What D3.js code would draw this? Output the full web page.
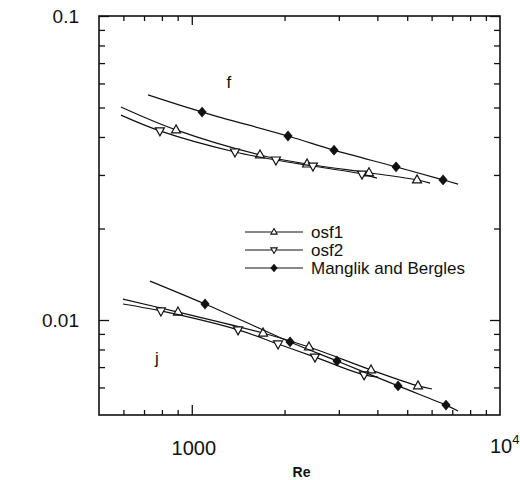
<!DOCTYPE html>
<html>
<head>
<meta charset="utf-8">
<script src="https://d3js.org/d3.v7.min.js"></script>
<style>
body { margin: 0; background: #fff; }
text { font-family: "Liberation Sans", Arial, Helvetica, sans-serif; fill: #111; }
</style>
</head>
<body>
<div id="chart"></div>
<script>
// f curves (Fanning friction factor) - line vertices
var fOsf1Re   = [589, 889, 1665, 2366, 3758, 5380, 5930];
var fOsf1Val  = [0.0502, 0.0422, 0.0349, 0.0326, 0.0305, 0.0289, 0.0282];
var fOsf2Re   = [589, 788, 1381, 1875, 2473, 3566, 3990];
var fOsf2Val  = [0.0472, 0.0419, 0.0357, 0.0336, 0.0321, 0.0302, 0.0293];
var fMBRe     = [721, 1080, 2052, 2894, 4600, 6535, 7310];
var fMBVal    = [0.0550, 0.0483, 0.0403, 0.0362, 0.0319, 0.0289, 0.0280];

// j curves (Colburn factor) - line vertices
var jOsf1Re   = [598, 902, 1703, 2400, 3815, 5420, 6017];
var jOsf1Val  = [0.01172, 0.01062, 0.00906, 0.00815, 0.00685, 0.00607, 0.00593];
var jOsf2Re   = [598, 794, 1413, 1905, 2510, 3622, 4022];
var jOsf2Val  = [0.01129, 0.01071, 0.00928, 0.00834, 0.00755, 0.00660, 0.00649];
var jMBRe     = [732, 1104, 2084, 2960, 4670, 6680, 7310];
var jMBVal    = [0.01343, 0.01129, 0.00847, 0.00733, 0.00607, 0.00525, 0.00502];

// the first and last vertex of each curve are line ends, the rest carry markers
var seriesNames = ["osf1", "osf2", "Manglik and Bergles"];
var seriesSymbols = ["up", "down", "diamond"];

var xMajor = [1000];
var xMinor = [600, 700, 800, 900, 2000, 3000, 4000, 5000, 6000, 7000, 8000, 9000];
var yMajor = [0.01, 0.1];
var yMinor = [0.006, 0.007, 0.008, 0.009, 0.02, 0.03, 0.04, 0.05, 0.06, 0.07, 0.08, 0.09];

var W = 520, H = 480;
var pLeft = 99, pRight = 500, pTop = 16, pBottom = 415;

var svg = d3.select("#chart").append("svg")
  .attr("width", W).attr("height", H);

var x = d3.scaleLog().domain([500, 10000]).range([pLeft, pRight]);
var y = d3.scaleLog().domain([0.00487, 0.1]).range([pBottom, pTop]);

// ticks, all pointing inward
svg.append("g").attr("transform", "translate(0," + pBottom + ")")
  .call(d3.axisBottom(x).tickValues(xMinor).tickSize(-5).tickFormat(""));
svg.append("g").attr("transform", "translate(0," + pBottom + ")")
  .call(d3.axisBottom(x).tickValues(xMajor).tickSize(-10).tickFormat(""));
svg.append("g").attr("transform", "translate(0," + pTop + ")")
  .call(d3.axisTop(x).tickValues(xMinor).tickSize(-5).tickFormat(""));
svg.append("g").attr("transform", "translate(0," + pTop + ")")
  .call(d3.axisTop(x).tickValues(xMajor).tickSize(-9).tickFormat(""));
svg.append("g").attr("transform", "translate(" + pLeft + ",0)")
  .call(d3.axisLeft(y).tickValues(yMinor).tickSize(-6).tickFormat(""));
svg.append("g").attr("transform", "translate(" + pLeft + ",0)")
  .call(d3.axisLeft(y).tickValues(yMajor).tickSize(-10).tickFormat(""));
svg.append("g").attr("transform", "translate(" + pRight + ",0)")
  .call(d3.axisRight(y).tickValues(yMinor).tickSize(-6).tickFormat(""));
svg.append("g").attr("transform", "translate(" + pRight + ",0)")
  .call(d3.axisRight(y).tickValues(yMajor).tickSize(-10).tickFormat(""));

svg.selectAll(".domain").remove();
svg.selectAll(".tick line").attr("stroke", "#111").attr("stroke-width", 1.3);

// frame
svg.append("rect")
  .attr("x", pLeft).attr("y", pTop)
  .attr("width", pRight - pLeft).attr("height", pBottom - pTop)
  .attr("fill", "none").attr("stroke", "#111").attr("stroke-width", 1.6);

// tick labels
svg.selectAll(".ylab").data(yMajor).enter().append("text")
  .attr("x", pLeft - 20).attr("y", function(d) { return y(d); })
  .attr("dy", "0.36em").attr("text-anchor", "end")
  .style("font-size", "19px")
  .text(function(d) { return d; });

svg.append("text")
  .attr("x", x(1000) + 2).attr("y", pBottom + 40)
  .attr("text-anchor", "middle").style("font-size", "20px")
  .text("1000");

var t4 = svg.append("text")
  .attr("x", x(10000) - 10).attr("y", pBottom + 38)
  .attr("text-anchor", "start").style("font-size", "20px");
t4.append("tspan").text("10");
t4.append("tspan").attr("dy", "-9").style("font-size", "13px").text("4");

svg.append("text")
  .attr("x", (pLeft + pRight) / 2 + 2).attr("y", pBottom + 62)
  .attr("text-anchor", "middle").style("font-size", "14px").style("font-weight", "bold")
  .text("Re");

// curve labels
svg.append("text").attr("x", x(1320)).attr("y", y(0.058))
  .attr("text-anchor", "middle").style("font-size", "17px").text("f");
svg.append("text").attr("x", x(771)).attr("y", y(0.00714))
  .attr("text-anchor", "middle").style("font-size", "17px").text("j");

function symbolPath(kind, s) {
  if (kind === "up") return "M0," + (-s) + "L" + (s * 0.9) + "," + (s * 0.6) + "L" + (-s * 0.9) + "," + (s * 0.6) + "Z";
  if (kind === "down") return "M0," + s + "L" + (s * 0.9) + "," + (-s * 0.6) + "L" + (-s * 0.9) + "," + (-s * 0.6) + "Z";
  return "M0," + (-s) + "L" + (s * 0.85) + ",0L0," + s + "L" + (-s * 0.85) + ",0Z";
}

var line = d3.line()
  .x(function(d) { return x(d[0]); })
  .y(function(d) { return y(d[1]); })
  .curve(d3.curveCatmullRom.alpha(0.5));

var curves = [
  [fOsf1Re, fOsf1Val, 0], [fOsf2Re, fOsf2Val, 1], [fMBRe, fMBVal, 2],
  [jOsf1Re, jOsf1Val, 0], [jOsf2Re, jOsf2Val, 1], [jMBRe, jMBVal, 2]
];

curves.forEach(function(c) {
  var pts = c[0].map(function(r, i) { return [r, c[1][i]]; });
  svg.append("path").datum(pts)
    .attr("d", line)
    .attr("fill", "none").attr("stroke", "#111").attr("stroke-width", 1.2);
  var kind = seriesSymbols[c[2]];
  svg.selectAll(null).data(pts.slice(1, -1)).enter().append("path")
    .attr("transform", function(d) { return "translate(" + x(d[0]) + "," + y(d[1]) + ")"; })
    .attr("d", symbolPath(kind, kind === "diamond" ? 4.5 : 5))
    .attr("fill", kind === "diamond" ? "#111" : "#fff")
    .attr("stroke", "#111").attr("stroke-width", 1.2);
});

// legend
var legY = [232, 250, 268];
var leg = svg.append("g");
seriesNames.forEach(function(name, i) {
  var g = leg.append("g").attr("transform", "translate(0," + legY[i] + ")");
  g.append("line").attr("x1", 245).attr("x2", 303).attr("y1", 0).attr("y2", 0)
    .attr("stroke", "#111").attr("stroke-width", 1.2);
  var kind = seriesSymbols[i];
  g.append("path").attr("transform", "translate(274,0)")
    .attr("d", symbolPath(kind, 3.5))
    .attr("fill", kind === "diamond" ? "#111" : "#fff")
    .attr("stroke", "#111").attr("stroke-width", 1.1);
  g.append("text").attr("x", 311).attr("y", 0).attr("dy", "0.36em")
    .style("font-size", "17px").text(name);
});
</script>
</body>
</html>
